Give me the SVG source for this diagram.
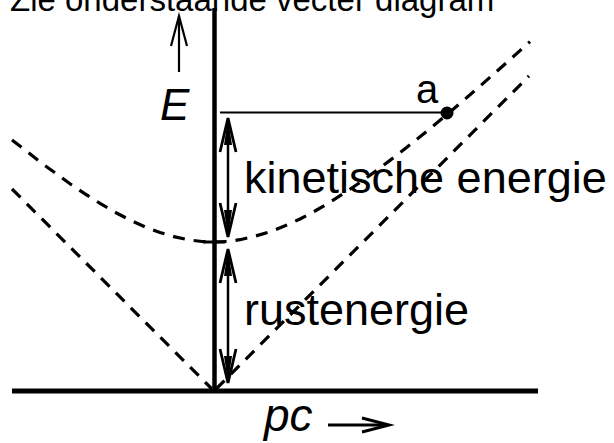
<svg xmlns="http://www.w3.org/2000/svg" width="614" height="443" viewBox="0 0 614 443">
<style>
.t{font-family:"Liberation Sans",Arial,sans-serif;fill:#000}
.dash{fill:none;stroke:#000;stroke-width:3.2;stroke-dasharray:12 9}
.ln{fill:none;stroke:#000}
</style>
<defs>
<g id="head">
<path d="M-8,34 L0,0 L8,34" fill="none" stroke="#000" stroke-width="2.8"/>
<path d="M-4,27 L0,0 L4,27 Z" fill="#000"/>
</g>
</defs>
<rect width="614" height="443" fill="#fff"/>
<text class="t" x="10" y="11" font-size="33">Zie onderstaande vecter diagram</text>
<g id="axes">
<line class="ln" x1="214.5" y1="8" x2="214.5" y2="391" stroke-width="4.5"/>
<line class="ln" x1="12" y1="391" x2="538" y2="391" stroke-width="5"/>
</g>
<g id="connectors">
<path class="dash" d="M12,140 L26,150.8 L40,161.9 L55,172.8 L70,183.8 L85,193.9 L100,203.4 L115,212.2 L130,220 L145,226.8 L160,232.5 L175,236.9 L190,240.1 L202,241.5 L214,242 L227,241.5 L240,239.7 L255,236.2 L270,231.8 L285,225.8 L300,219 L315,211 L330,202.2 L345,192.6 L360,182.4 L375,171.6 L390,160.4 L405,148.8 L420,136.8 L435,124.5 L450,111.9 L465,99.1 L480,86.1 L495,72.9 L510,59.6 L520,50.6 L530,41.6"/>
<line class="dash" x1="12" y1="189" x2="212" y2="389"/>
<line class="dash" x1="216" y1="389" x2="529" y2="76"/>
<line class="ln" x1="220" y1="112.5" x2="445" y2="112.5" stroke-width="2.2"/>
<line class="ln" x1="203" y1="242" x2="225" y2="242" stroke-width="3"/>
<line class="ln" x1="228" y1="122" x2="228" y2="233" stroke-width="2.5"/>
<use href="#head" transform="translate(228,118)"/>
<use href="#head" transform="translate(228,237) rotate(180)"/>
<line class="ln" x1="228" y1="253" x2="228" y2="379" stroke-width="2.5"/>
<use href="#head" transform="translate(228,249)"/>
<use href="#head" transform="translate(228,383) rotate(180)"/>
<line class="ln" x1="179" y1="16" x2="179" y2="72" stroke-width="2.2"/>
<path class="ln" d="M171,46 L179,16 L187,46" stroke-width="2.2"/>
<line class="ln" x1="328" y1="425" x2="388" y2="425" stroke-width="3"/>
<path class="ln" d="M362,418 L389,425 L362,432" stroke-width="3"/>
</g>
<g id="point-a">
<circle cx="447" cy="113" r="6.5" fill="#000"/>
<text class="t" x="416" y="103" font-size="40">a</text>
</g>
<g id="labels">
<text class="t" x="160" y="120" font-size="44" font-style="italic">E</text>
<text class="t" x="244" y="193" font-size="45">kinetische energie</text>
<text class="t" x="244" y="325" font-size="45">rustenergie</text>
<text class="t" x="264" y="431" font-size="46" font-style="italic">pc</text>
</g>
</svg>
